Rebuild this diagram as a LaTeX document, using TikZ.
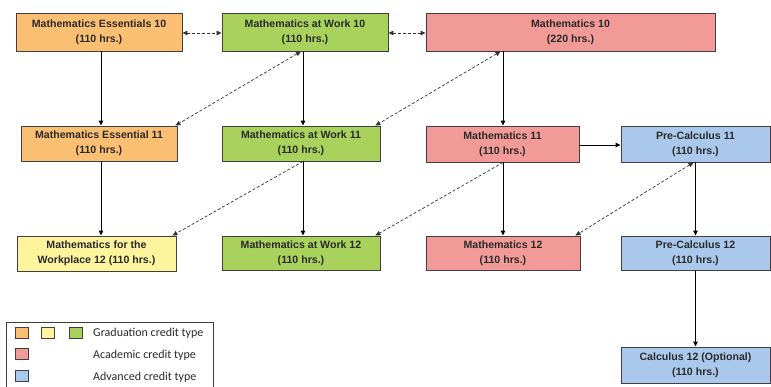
\documentclass[tikz,border=0pt]{standalone}
\usepackage{fontspec}
\setmainfont{Liberation Sans}
\newfontfamily\legendfont{Carlito}
\usetikzlibrary{arrows.meta}
\definecolor{cOrange}{HTML}{FBBF74}
\definecolor{cYellow}{HTML}{FFF49E}
\definecolor{cGreen}{HTML}{A8D25C}
\definecolor{cRed}{HTML}{F29A98}
\definecolor{cBlue}{HTML}{AAC8EC}
\definecolor{cLine}{HTML}{404040}
\definecolor{cText}{HTML}{2A2A2A}
\tikzset{
  course/.style={draw=cLine, line width=0.9pt, rectangle, inner sep=0pt, align=center,
    font=\fontsize{10.6}{15}\selectfont\bfseries, text=cText},
  arr/.style={-{Triangle[length=5pt,width=4.5pt]}, draw=black, line width=0.9pt},
  darr/.style={{Triangle[length=5pt,width=4.5pt]}-{Triangle[length=5pt,width=4.5pt]}, draw=black!80, line width=0.7pt, dash pattern=on 3pt off 2pt},
  dsarr/.style={-{Triangle[length=5pt,width=4.5pt]}, draw=black!80, line width=0.7pt, dash pattern=on 3pt off 2pt},
  swatch/.style={draw=cLine, line width=0.8pt, rectangle, inner sep=0pt, minimum width=13pt, minimum height=11pt},
  legtext/.style={anchor=west, inner sep=0pt, font=\legendfont\fontsize{12}{13}\selectfont, text=cText}
}
\begin{document}
\begin{tikzpicture}[x=1pt,y=-1pt]
\useasboundingbox (0,0) rectangle (771,386);
% row 10
\node[course, fill=cOrange, minimum width=166pt, minimum height=38pt] (ME10) at (99,32) {Mathematics Essentials 10\\(110 hrs.)};
\node[course, fill=cGreen, minimum width=166pt, minimum height=38pt] (MW10) at (305,32) {Mathematics at Work 10\\(110 hrs.)};
\node[course, fill=cRed, minimum width=289pt, minimum height=38pt] (M10) at (570.5,32) {Mathematics 10\\(220 hrs.)};
% row 11
\node[course, fill=cOrange, minimum width=156pt, minimum height=35pt] (ME11) at (99,143.5) {Mathematics Essential 11\\(110 hrs.)};
\node[course, fill=cGreen, minimum width=158pt, minimum height=35pt] (MW11) at (301,143.5) {Mathematics at Work 11\\(110 hrs.)};
\node[course, fill=cRed, minimum width=153pt, minimum height=36pt] (M11) at (502.5,144) {Mathematics 11\\(110 hrs.)};
\node[course, fill=cBlue, minimum width=149pt, minimum height=36pt] (PC11) at (695.5,144) {Pre-Calculus 11\\(110 hrs.)};
% row 12
\node[course, fill=cYellow, minimum width=159pt, minimum height=35pt] (MFW12) at (96.5,253.5) {Mathematics for the\\Workplace 12 (110 hrs.)};
\node[course, fill=cGreen, minimum width=158pt, minimum height=34pt] (MW12) at (301,253) {Mathematics at Work 12\\(110 hrs.)};
\node[course, fill=cRed, minimum width=154pt, minimum height=34pt] (M12) at (503,253) {Mathematics 12\\(110 hrs.)};
\node[course, fill=cBlue, minimum width=149pt, minimum height=34pt] (PC12) at (695.5,253) {Pre-Calculus 12\\(110 hrs.)};
\node[course, fill=cBlue, minimum width=149pt, minimum height=36pt] (C12) at (695.5,365) {Calculus 12 (Optional)\\(110 hrs.)};
% horizontal dashed links
\draw[darr] ([yshift=-1pt]ME10.east) -- ([yshift=-1pt]MW10.west);
\draw[darr] ([yshift=-1pt]MW10.east) -- ([yshift=-1pt]M10.west);
% vertical solid arrows
\draw[arr] ([xshift=2pt]ME10.south) -- ([xshift=2pt]ME10.south |- ME11.north);
\draw[arr] ([xshift=2pt]ME11.south) -- ([xshift=2pt]ME11.south |- MFW12.north);
\draw[arr] ([xshift=-2pt]MW10.south) -- ([xshift=-2pt]MW10.south |- MW11.north);
\draw[arr] ([xshift=2pt]MW11.south) -- ([xshift=2pt]MW11.south |- MW12.north);
\draw[arr] ([xshift=0.5pt]M11.north |- M10.south) -- ([xshift=0.5pt]M11.north);
\draw[arr] ([xshift=0.5pt]M11.south) -- ([xshift=0.5pt]M11.south |- M12.north);
\draw[arr] (PC11.south) -- (PC11.south |- PC12.north);
\draw[arr] (PC12.south) -- (C12.north);
\draw[arr] ([yshift=-1pt]M11.east) -- ([yshift=-1pt]M11.east -| PC11.west);
% diagonal dashed links
\draw[darr] ([xshift=-4pt]MW10.south) -- ([xshift=-2pt]ME11.north east);
\draw[darr] ([xshift=-2pt]M11.north |- M10.south) -- ([xshift=-5pt]MW11.north east);
\draw[dsarr] ([xshift=2pt]MW11.south) -- ([xshift=-4pt]MFW12.north east);
\draw[dsarr] ([xshift=0.5pt]M11.south) -- ([xshift=-5pt]MW12.north east);
\draw[darr] ([xshift=-2pt]PC11.south) -- ([xshift=-5pt]M12.north east);
% legend
\draw[cLine, line width=0.8pt, fill=white] (6,322) rectangle (213,395);
\node[swatch, fill=cOrange] (sw1) at (21.5,332.5) {};
\node[swatch, fill=cYellow] (sw2) at (48,332.5) {};
\node[swatch, fill=cGreen] (sw3) at (75.5,332.5) {};
\node[swatch, fill=cRed] (sw4) at (21.5,354) {};
\node[swatch, fill=cBlue] (sw5) at (21.5,376) {};
\node[legtext] (lg1) at (93,333.5) {Graduation credit type};
\node[legtext] (lg2) at (93,355) {Academic credit type};
\node[legtext] (lg3) at (93,377) {Advanced credit type};
\end{tikzpicture}
\end{document}
